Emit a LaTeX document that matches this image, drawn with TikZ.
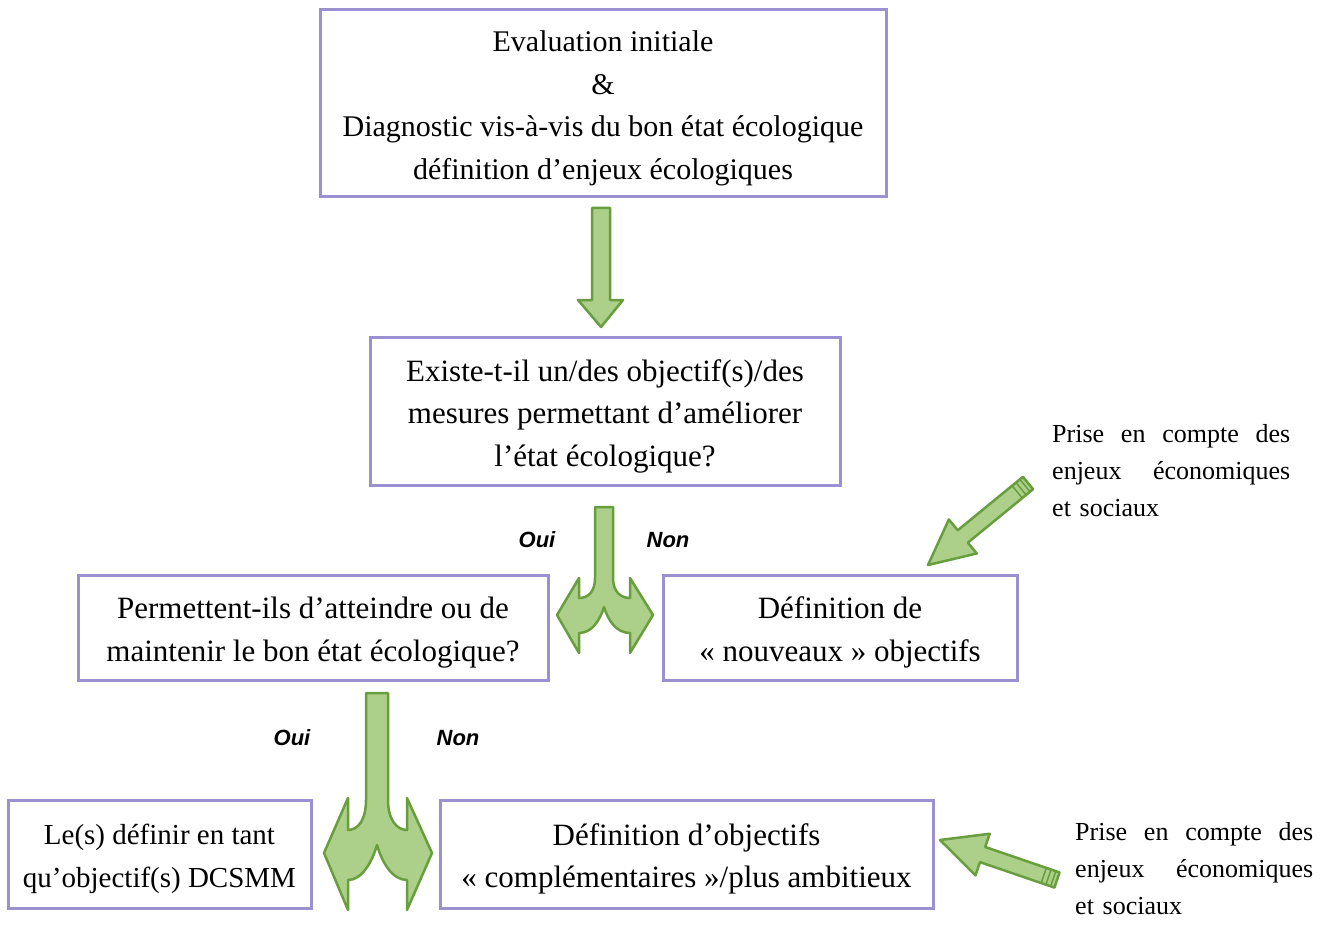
\documentclass[tikz,border=0pt]{standalone}
\usepackage{fontspec}
\setmainfont{Liberation Serif}
\newfontfamily\ouifont{Liberation Sans}
\usetikzlibrary{calc}
\definecolor{boxc}{RGB}{155,145,210}
\definecolor{arrfill}{RGB}{172,208,138}
\definecolor{arrdraw}{RGB}{104,158,62}
\tikzset{
 box/.style={draw=boxc, line width=3pt, inner sep=0pt},
 boxtext/.style={inner sep=0pt, align=center, yshift=-5pt, font=\fontsize{31}{42.5}\selectfont},
 garrow/.style={fill=arrfill, draw=arrdraw, line width=2.5pt, line join=round},
 ouinon/.style={font=\ouifont\bfseries\itshape\fontsize{22}{26}\selectfont, inner sep=0pt},
 side/.style={font=\fontsize{26}{37}\selectfont, align=left, text width=240pt, inner sep=0pt, anchor=north west},
}
\newcommand\diagarrow[2]{%
 \coordinate (hb) at ($(#2)!45pt!(#1)$);
 \draw[garrow] ($(#1)!8pt!90:(#2)$) -- ($(hb)!8pt!90:(#2)$) -- ($(hb)!22pt!90:(#2)$) -- (#2)
   -- ($(hb)!22pt!-90:(#2)$) -- ($(hb)!8pt!-90:(#2)$) -- ($(#1)!8pt!-90:(#2)$) -- cycle;
 \foreach \d in {4,9,14}{
   \coordinate (sq) at ($(#1)!\d pt!(#2)$);
   \draw[arrdraw, line width=1.5pt] ($(sq)!8pt!90:(#2)$) -- ($(sq)!8pt!-90:(#2)$);
 }%
}
\newcommand\sidetext{\leavevmode\hbox to 238pt{Prise\hfill en\hfill compte\hfill des}\\\leavevmode\hbox to 238pt{enjeux\hfill économiques}\\et sociaux}
\begin{document}
\begin{tikzpicture}[x=1pt,y=-1pt]
\useasboundingbox (0,0) rectangle (1332,925);
\fill[white] (0,0) rectangle (1332,925);

\node[box, minimum width=566pt, minimum height=187pt] (b1) at (603,103.5) {};
\node[boxtext, font=\fontsize{30}{42.5}\selectfont] (t1) at (b1.center)
 {Evaluation initiale\\\&\\Diagnostic vis-à-vis du bon état écologique\\définition d’enjeux écologiques};
\node[box, minimum width=470pt, minimum height=148pt] (b2) at (605,411) {};
\node[boxtext] (t2) at (b2.center)
 {Existe-t-il un/des objectif(s)/des\\mesures permettant d’améliorer\\l’état écologique?};
\node[box, minimum width=470pt, minimum height=105pt] (b3) at (313,627.5) {};
\node[boxtext] (t3) at (b3.center)
 {Permettent-ils d’atteindre ou de\\maintenir le bon état écologique?};
\node[box, minimum width=354pt, minimum height=105pt] (b4) at (840,627.5) {};
\node[boxtext] (t4) at (b4.center)
 {Définition de\\« nouveaux » objectifs};
\node[box, minimum width=303pt, minimum height=108pt] (b5) at (159.5,854) {};
\node[boxtext, font=\fontsize{29}{42.5}\selectfont] (t5) at (b5.center)
 {Le(s) définir en tant\\qu’objectif(s) DCSMM};
\node[box, minimum width=493pt, minimum height=108pt] (b6) at (686.5,854) {};
\node[boxtext] (t6) at (b6.center)
 {Définition d’objectifs\\« complémentaires »/plus ambitieux};

\node[ouinon] (oui1) at (537,540) {Oui};
\node[ouinon] (non1) at (668,540) {Non};
\node[ouinon] (oui2) at (292,738) {Oui};
\node[ouinon] (non2) at (458,738) {Non};

\node[side] (s1) at (1052,424) {\sidetext};
\node[side] (s2) at (1075,822) {\sidetext};

% straight arrow b1 -> b2
\draw[garrow] (592,208) -- (610,208) -- (610,300) -- (623,300) -- (601,327) -- (578,300) -- (592,300) -- cycle;

% fork arrow b2 -> b3 / b4
\draw[garrow] (595,507) -- (595,578) .. controls (595,592) and (588,598) .. (579,598) -- (579,578) -- (557,615) -- (579,653) -- (579,633)
  .. controls (592,633) and (600,620) .. (604,607) .. controls (608,620) and (616,633) .. (630,633) -- (630,653) -- (653,615) -- (630,578) -- (630,598)
  .. controls (621,598) and (613,592) .. (613,578) -- (613,507) -- cycle;

% fork arrow b3 -> b5 / b6
\draw[garrow] (366,693) -- (366,800) .. controls (366,820) and (358,830) .. (348,830) -- (348,798) -- (324,853) -- (348,910) -- (348,880)
  .. controls (362,880) and (372,862) .. (377,845) .. controls (382,862) and (392,880) .. (407,880) -- (407,910) -- (432,853) -- (407,798) -- (407,830)
  .. controls (397,830) and (388,820) .. (388,800) -- (388,693) -- cycle;

% side arrows
\coordinate (tl1) at (1028,483);
\coordinate (hd1) at (928,565);
\diagarrow{tl1}{hd1}
\coordinate (tl2) at (1057,880);
\coordinate (hd2) at (940,840);
\diagarrow{tl2}{hd2}
\end{tikzpicture}
\end{document}
